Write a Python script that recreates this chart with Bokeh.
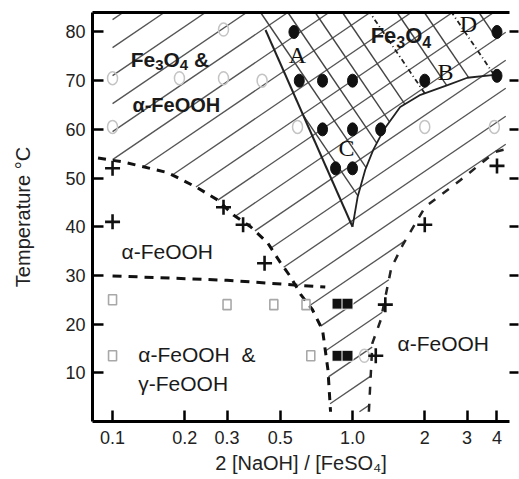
import math
from bokeh.plotting import figure
from bokeh.models import Range1d, FixedTicker, LinearAxis, CustomLabelingPolicy
from bokeh.core.properties import value
from bokeh.embed import file_html
from bokeh.resources import INLINE

# ---------------- data ----------------
x_ticks = [0.1, 0.2, 0.3, 0.5, 1.0, 2.0, 3.0, 4.0]
x_tick_labels = ["0.1", "0.2", "0.3", "0.5", "1.0", "2", "3", "4"]
y_ticks = [10, 20, 30, 40, 50, 60, 70, 80]

# filled circles (Fe3O4)
fc_x = [0.57, 0.6, 0.75, 1.0, 0.75, 1.0, 1.31, 0.85, 1.0, 2.0, 4.0, 4.0]
fc_y = [80, 70, 70, 70, 60, 60, 60, 52, 52, 70, 80, 71]
# filled squares
fs_x = [0.866, 0.953, 0.866, 0.953]
fs_y = [24.2, 24.2, 13.5, 13.5]
# plus markers
pl_x = [0.1, 0.1, 0.29, 0.35, 0.43, 4.0, 2.0, 1.37, 1.25]
pl_y = [52, 41, 44, 40.4, 32.5, 52.5, 40.4, 24, 13.5]
# open squares (faint)
os_x = [0.1, 0.1, 0.3, 0.47, 0.64, 0.67]
os_y = [25, 13.5, 24, 24, 24, 13.5]
# open circles (faint)
oc_x = [0.29, 0.1, 0.19, 0.29, 0.42, 0.1, 0.59, 2.0, 3.9, 1.12]
oc_y = [80.5, 70.5, 70.5, 70.5, 70, 60.5, 60.5, 60.5, 60.5, 13.5]

# boundaries
dash_curve_x = [0.087, 0.111, 0.17, 0.226, 0.274, 0.319, 0.376, 0.443, 0.501, 0.552, 0.61, 0.68, 0.75, 0.79, 0.81]
dash_curve_y = [54.1, 53.3, 51.1, 48.0, 45.5, 42.4, 40.0, 36.7, 32.6, 29.7, 26.0, 23.0, 18.8, 10.6, 2.0]
right_bound_x = [1.17, 1.21, 1.31, 1.45, 1.62, 2.01, 2.82, 3.94, 4.42]
right_bound_y = [2.0, 16.1, 20.8, 31.5, 36.3, 44.1, 49.6, 55.4, 56.0]
hline_x = [0.1, 0.3, 0.77]
hline_y = [29.9, 29.0, 27.6]
lineA_x = [0.434, 1.0]
lineA_y = [80.4, 40.0]
curve_x = [1.0, 1.05, 1.13, 1.22, 1.35, 1.58, 1.92, 2.49, 3.01, 3.9]
curve_y = [40, 46.1, 51.7, 55.8, 59.9, 64.6, 67.1, 69.1, 70.6, 71.2]
hatch_left_x = 0.1
hatch_right_x = 4.35

# ---------------- geometry ----------------
X0, X1 = 0.0825, 4.51
Y0, Y1 = 0.0, 84.0
FW, FH = 417, 409
L0, L1 = math.log10(X0), math.log10(X1)


def to_s(x, y):
    return ((math.log10(x) - L0) / (L1 - L0) * FW, (Y1 - y) / (Y1 - Y0) * FH)


def to_d(sx, sy):
    return (10 ** (L0 + sx / FW * (L1 - L0)), Y1 - sy / FH * (Y1 - Y0))


def clip_family(poly, nx, ny, c0, step):
    pts = [to_s(x, y) for x, y in poly]
    tx, ty = ny, -nx
    cs = [nx * a + ny * b for a, b in pts]
    kmin = math.floor((min(cs) - c0) / step)
    kmax = math.ceil((max(cs) - c0) / step)
    xs, ys, ks = [], [], []
    n = len(pts)
    for k in range(kmin, kmax + 1):
        c = c0 + k * step
        f = [v - c for v in cs]
        hits = []
        for i in range(n):
            j = (i + 1) % n
            if (f[i] > 0) != (f[j] > 0):
                r = f[i] / (f[i] - f[j])
                ax, ay = pts[i]
                bx, by = pts[j]
                ix, iy = ax + r * (bx - ax), ay + r * (by - ay)
                hits.append((ix * tx + iy * ty, ix, iy))
        hits.sort()
        for m in range(0, len(hits) - 1, 2):
            d1 = to_d(hits[m][1], hits[m][2])
            d2 = to_d(hits[m + 1][1], hits[m + 1][2])
            xs.append([d1[0], d2[0]])
            ys.append([d1[1], d2[1]])
            ks.append(k)
    return xs, ys, ks


# hatched region polygon
H = [(hatch_left_x, Y1), (hatch_left_x, 53.6)]
H += [(x, y) for x, y in zip(dash_curve_x[1:], dash_curve_y[1:])]
H += [(x, y) for x, y in zip(right_bound_x[:-1], right_bound_y[:-1])]
H += [(hatch_right_x, 55.8), (hatch_right_x, Y1)]

# Fe3O4 region (cross hatched): line A extended to top, curve, up to top
a1 = to_s(lineA_x[0], lineA_y[0])
a2 = to_s(lineA_x[1], lineA_y[1])
t = (0 - a1[1]) / (a2[1] - a1[1])
a_top = to_d(a1[0] + t * (a2[0] - a1[0]), 0.0)
F = [a_top] + list(zip(curve_x, curve_y)) + [(curve_x[-1], Y1)]

hx, hy, _ = clip_family(H, 0.68, 1.0, 412.8, 28.0)
cx, cy, ck = clip_family(F, 1.0, -0.68, 277.3, 27.3)

# ---------------- figure ----------------
p = figure(x_axis_type="log", x_range=Range1d(X0, X1), y_range=Range1d(Y0, Y1),
           frame_width=FW, frame_height=FH,
           min_border_left=92, min_border_right=10, min_border_top=12, min_border_bottom=58,
           output_backend="svg", toolbar_location=None)
p.outline_line_color = None
p.xgrid.visible = False
p.ygrid.visible = False
p.background_fill_color = "white"
p.border_fill_color = "white"

FONT = "Liberation Sans"
no_labels = CustomLabelingPolicy(code="""
for (const i of indices) indices.unset(i)
return indices
""")

xa = p.xaxis[0]
xa.ticker = FixedTicker(ticks=x_ticks)
xa.major_label_overrides = {t_: l for t_, l in zip(x_ticks, x_tick_labels)}
xa.axis_line_width = 3
xa.major_tick_in = 11
xa.major_tick_out = 0
xa.major_tick_line_width = 2.5
xa.minor_tick_line_color = None
xa.major_label_standoff = 9
xa.major_label_text_font = FONT
xa.major_label_text_font_size = "18px"
xa.major_label_text_color = "#222222"
xa.axis_label = "2 [NaOH] / [FeSO\u2084]"
xa.axis_label_text_font = FONT
xa.axis_label_text_font_size = "20px"
xa.axis_label_text_font_style = "normal"
xa.axis_label_text_color = "#222222"
xa.axis_label_standoff = 5

ya = p.yaxis[0]
ya.ticker = FixedTicker(ticks=y_ticks)
ya.axis_line_width = 3
ya.major_tick_in = 11
ya.major_tick_out = 0
ya.major_tick_line_width = 2.5
ya.minor_tick_line_color = None
ya.major_label_standoff = 7
ya.major_label_text_font = FONT
ya.major_label_text_font_size = "18px"
ya.major_label_text_color = "#222222"
ya.axis_label = "Temperature \u00b0C"
ya.axis_label_text_font = FONT
ya.axis_label_text_font_size = "20px"
ya.axis_label_text_font_style = "normal"
ya.axis_label_text_color = "#222222"
ya.axis_label_standoff = 28

ra = LinearAxis(ticker=FixedTicker(ticks=y_ticks), major_label_policy=no_labels)
ra.axis_line_color = None
ra.major_tick_in = 0
ra.major_tick_out = 9
ra.major_tick_line_width = 2.5
ra.minor_tick_line_color = None
ra.major_label_standoff = 0
p.add_layout(ra, "right")

ta = LinearAxis(ticker=FixedTicker(ticks=[]), major_label_policy=no_labels)
ta.axis_line_width = 3
ta.major_tick_line_color = None
ta.minor_tick_line_color = None
ta.major_label_standoff = 0
p.add_layout(ta, "above")

# hatch lines
p.multi_line(hx, hy, line_color="#555555", line_width=1.35)
solid_x = [a for a, k in zip(cx, ck) if k not in (0, 3)]
solid_y = [a for a, k in zip(cy, ck) if k not in (0, 3)]
dd_x = [a for a, k in zip(cx, ck) if k in (0, 3)]
dd_y = [a for a, k in zip(cy, ck) if k in (0, 3)]
p.multi_line(solid_x, solid_y, line_color="#444444", line_width=1.4)
p.multi_line(dd_x, dd_y, line_color="#222222", line_width=1.8, line_dash="5 3 1 3")

# boundaries
p.line(dash_curve_x, dash_curve_y, line_color="#111111", line_width=3, line_dash="8 7")
p.line(right_bound_x, right_bound_y, line_color="#222222", line_width=2.5, line_dash="8 9")
p.line(hline_x, hline_y, line_color="#111111", line_width=3, line_dash="9 7")
p.line(lineA_x, lineA_y, line_color="#222222", line_width=2)
p.line(curve_x, curve_y, line_color="#222222", line_width=1.8)

# markers
p.ellipse(x=oc_x, y=oc_y, width=10, height=13, width_units="screen", height_units="screen",
          fill_color=None, line_color="#c4c4c4", line_width=1.5)
p.rect(x=os_x, y=os_y, width=8, height=10, width_units="screen", height_units="screen",
       fill_color=None, line_color="#a8a8a8", line_width=1.6)
p.ellipse(x=fc_x, y=fc_y, width=10, height=13, width_units="screen", height_units="screen",
          fill_color="#111111", line_color="#111111")
p.scatter(x=fs_x, y=fs_y, marker="square", size=11, fill_color="#111111", line_color="white",
          line_width=1)
p.scatter(x=pl_x, y=pl_y, marker="cross", size=15, line_color="#111111", line_width=2.6)


# ---------------- text labels ----------------
BOLD_W = {"F": 0.611, "e": 0.556, "O": 0.778, "3": 0.556, "4": 0.556, " ": 0.278,
          "\u00a0": 0.278, "&": 0.722}


def formula(x, y, pieces, size, sub_size, sub_drop):
    off = 0.0
    for s, is_sub in pieces:
        fs = sub_size if is_sub else size
        p.text(x=[x], y=[y], text=[s], x_offset=off, y_offset=sub_drop if is_sub else 0,
               text_font=value(FONT), text_font_style="bold", text_font_size=f"{fs}px",
               text_align="left", text_baseline="middle", text_color="#1a1a1a")
        off += sum(BOLD_W.get(ch, 0.6) for ch in s) * fs


formula(0.119, 74.3, [("Fe", False), ("3", True), ("O", False), ("4", True), ("\u00a0&", False)], 21, 15, 5)
formula(1.19, 79.2, [("Fe", False), ("3", True), ("O", False), ("4", True)], 22, 16, 6)
p.text(x=[0.121], y=[65.0], text=["\u03b1-FeOOH"], text_font=value(FONT), text_font_style="bold",
       text_font_size="20px", text_align="left", text_baseline="middle", text_color="#1a1a1a")

reg_lbl = dict(text_font=value(FONT), text_font_size="21px", text_align="left",
               text_baseline="middle", text_color="#1a1a1a")
p.text(x=[0.109], y=[35.0], text=["\u03b1-FeOOH"], **reg_lbl)
p.text(x=[0.128], y=[13.7], text=["\u03b1-FeOOH\u00a0\u00a0&"], **reg_lbl)
p.text(x=[0.128], y=[7.8], text=["\u03b3-FeOOH"], **reg_lbl)
p.text(x=[1.54], y=[16.1], text=["\u03b1-FeOOH"], **reg_lbl)

ser_lbl = dict(text_font=value("Liberation Serif"), text_font_size="24px", text_align="center",
               text_baseline="middle", text_color="#111111")
p.text(x=[0.59, 2.44, 0.944, 3.04], y=[75.3, 71.8, 56.2, 81.6], text=["A", "B", "C", "D"], **ser_lbl)

open("out.html", "w").write(file_html(p, INLINE))
